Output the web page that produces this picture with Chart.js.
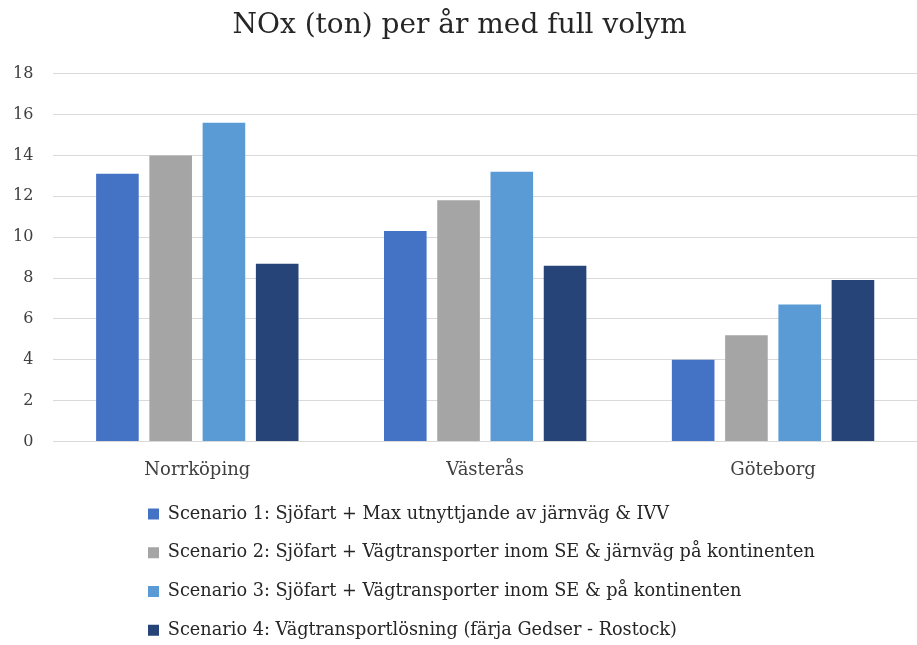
<!DOCTYPE html>
<html>
<head>
<meta charset="utf-8">
<script src="https://cdn.jsdelivr.net/npm/chart.js@4/dist/chart.umd.min.js"></script>
<style>
  html, body { margin: 0; padding: 0; background: #fff; }
  #wrap { width: 917px; height: 645px; }
</style>
</head>
<body>
<div id="wrap"><canvas id="myChart"></canvas></div>
<script>
const categories = ["Norrköping", "Västerås", "Göteborg"];
const scenarioNames = [
  "Scenario 1: Sjöfart + Max utnyttjande av järnväg & IVV",
  "Scenario 2: Sjöfart + Vägtransporter inom SE & järnväg på kontinenten",
  "Scenario 3: Sjöfart + Vägtransporter inom SE & på kontinenten",
  "Scenario 4: Vägtransportlösning (färja Gedser - Rostock)"
];
const scenario1 = [13.1, 10.3, 4.0];
const scenario2 = [14.0, 11.8, 5.2];
const scenario3 = [15.6, 13.2, 6.7];
const scenario4 = [8.7, 8.6, 7.9];
const yTicks = [0, 2, 4, 6, 8, 10, 12, 14, 16, 18];

const colors = ["#4472C4", "#A5A5A5", "#5B9BD5", "#264478"];
const serif = "'DejaVu Serif', 'Liberation Serif', serif";

// move the legend so its rows start left-aligned like the original
const legendShift = {
  id: "legendShift",
  afterLayout(chart) {
    const lg = chart.legend;
    lg.left += 134;
    lg.right += 134;
    lg.top -= 7;
    lg.bottom -= 7;
  }
};

const ctx = document.getElementById("myChart").getContext("2d");
new Chart(ctx, {
  type: "bar",
  data: {
    labels: categories,
    datasets: [scenario1, scenario2, scenario3, scenario4].map((d, i) => ({
      label: scenarioNames[i],
      data: d,
      backgroundColor: colors[i],
      categoryPercentage: 0.74,
      barPercentage: 0.8
    }))
  },
  options: {
    responsive: true,
    maintainAspectRatio: false,
    animation: false,
    layout: { padding: { left: -7, right: -9, top: 0, bottom: -11 } },
    plugins: {
      title: {
        display: true,
        text: "NOx (ton) per år med full volym",
        color: "#262626",
        font: { family: serif, size: 28, weight: "normal" },
        padding: { top: 9, bottom: 31 }
      },
      legend: {
        position: "bottom",
        align: "start",
        labels: {
          color: "#262626",
          font: { family: serif, size: 17.7 },
          boxWidth: 11,
          boxHeight: 11,
          padding: 21
        }
      },
      tooltip: { enabled: false }
    },
    scales: {
      x: {
        grid: { display: false },
        border: { display: true, color: "#D9D9D9", width: 1 },
        ticks: { color: "#404040", font: { family: serif, size: 18 }, padding: 10 }
      },
      y: {
        min: 0,
        max: 18,
        afterBuildTicks: (axis) => { axis.ticks = yTicks.map(v => ({ value: v })); },
        grid: { color: "#D9D9D9", drawTicks: false },
        border: { display: false },
        ticks: { color: "#404040", font: { family: serif, size: 16 }, padding: 20 }
      }
    }
  },
  plugins: [legendShift]
});
</script>
</body>
</html>
